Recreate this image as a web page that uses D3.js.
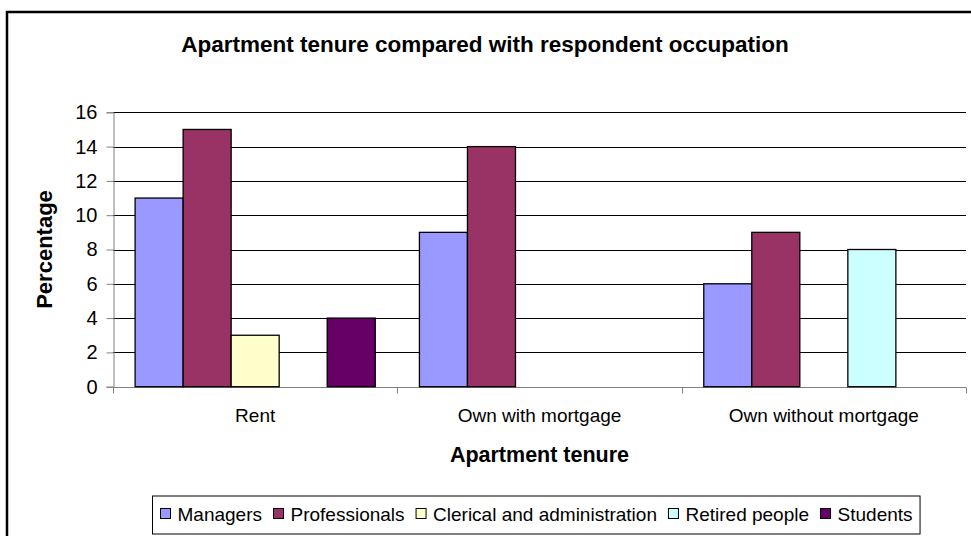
<!DOCTYPE html>
<html lang="en">
  <head>
    <meta charset="UTF-8" />
    <title>Apartment tenure compared with respondent occupation</title>
    <script src="https://d3js.org/d3.v7.min.js"></script>
    <style>
      body { margin: 0; background: #fff; }
      text { font-family: 'Liberation Sans', Arial, sans-serif; fill: #000; }
    </style>
  </head>
  <body>
    <svg id="chart" width="971" height="536"></svg>
    <script>
      // data
      let categories = ['Rent', 'Own with mortgage', 'Own without mortgage']
      let series = ['Managers', 'Professionals', 'Clerical and administration', 'Retired people', 'Students']
      let colors = ['#9999ff', '#993366', '#ffffcc', '#ccffff', '#660066']
      let managers = [11, 9, 6]
      let professionals = [15, 14, 9]
      let clerical = [3, 0, 0]
      let retired = [0, 0, 8]
      let students = [4, 0, 0]
      let yTicks = [0, 2, 4, 6, 8, 10, 12, 14, 16]

      let values = [managers, professionals, clerical, retired, students]

      let plot = { left: 113, right: 966, top: 112.3, bottom: 386.7 }

      let svg = d3.select('#chart')

      // outer chart frame (runs off the right and bottom edge)
      svg.append('rect')
        .attr('x', 7).attr('y', 12)
        .attr('width', 990).attr('height', 560)
        .attr('fill', '#fff')
        .attr('stroke', '#000')
        .attr('stroke-width', 2.5)

      let x = d3.scaleBand().domain(categories).range([plot.left, plot.right])
      let xInner = d3.scaleBand().domain(series).range([0, x.bandwidth()]).paddingOuter(0.46)
      let y = d3.scaleLinear().domain([0, 16]).range([plot.bottom, plot.top])
      let color = d3.scaleOrdinal().domain(series).range(colors)

      // gridlines
      svg.append('g')
        .selectAll('line')
        .data(yTicks.filter(d => d > 0))
        .join('line')
        .attr('x1', plot.left).attr('x2', plot.right)
        .attr('y1', d => Math.round(y(d)) + 0.5).attr('y2', d => Math.round(y(d)) + 0.5)
        .attr('stroke', '#000')

      // y axis
      let yAxis = svg.append('g')
        .attr('transform', `translate(${plot.left + 0.5},0)`)
        .call(d3.axisLeft(y).tickValues(yTicks).tickSize(7).tickPadding(9))
      yAxis.select('.domain').attr('stroke', '#808080')
      yAxis.selectAll('.tick line').attr('stroke', '#808080')
      yAxis.selectAll('text').style('font-size', '20px').attr('font-family', null)

      // x axis line and ticks at the category boundaries
      let xAxis = svg.append('g').attr('transform', `translate(0,${Math.round(plot.bottom) + 0.5})`)
      xAxis.append('line')
        .attr('x1', plot.left).attr('x2', plot.right)
        .attr('stroke', '#808080')
      xAxis.selectAll('line.tick')
        .data(categories.map(c => x(c)).concat([plot.right]))
        .join('line')
        .attr('class', 'tick')
        .attr('x1', d => Math.round(d) + 0.5).attr('x2', d => Math.round(d) + 0.5)
        .attr('y1', 0).attr('y2', 6)
        .attr('stroke', '#808080')
      xAxis.selectAll('text')
        .data(categories)
        .join('text')
        .attr('x', d => x(d) + x.bandwidth() / 2)
        .attr('y', 34.5)
        .attr('text-anchor', 'middle')
        .style('font-size', '19px')
        .text(d => d)

      // bars
      let bars = []
      categories.forEach((c, i) => {
        series.forEach((s, j) => {
          if (values[j][i] > 0) bars.push({ category: c, series: s, value: values[j][i] })
        })
      })
      svg.append('g')
        .selectAll('rect')
        .data(bars)
        .join('rect')
        .attr('x', d => x(d.category) + xInner(d.series))
        .attr('y', d => y(d.value))
        .attr('width', xInner.bandwidth())
        .attr('height', d => y(0) - y(d.value))
        .attr('fill', d => color(d.series))
        .attr('stroke', '#000')
        .attr('stroke-width', 1.3)

      // titles
      svg.append('text')
        .attr('x', 485).attr('y', 52)
        .attr('text-anchor', 'middle')
        .style('font-size', '22.5px').style('font-weight', 'bold')
        .text('Apartment tenure compared with respondent occupation')

      svg.append('text')
        .attr('x', (plot.left + plot.right) / 2).attr('y', 462)
        .attr('text-anchor', 'middle')
        .style('font-size', '21.5px').style('font-weight', 'bold')
        .text('Apartment tenure')

      svg.append('text')
        .attr('transform', `translate(52,${(plot.top + plot.bottom) / 2}) rotate(-90)`)
        .attr('text-anchor', 'middle')
        .style('font-size', '22px').style('font-weight', 'bold')
        .text('Percentage')

      // legend
      let legendLeft = 160
      let legend = svg.append('g')
      let legendBox = legend.append('rect')
        .attr('y', 496).attr('height', 38)
        .attr('fill', '#fff').attr('stroke', '#000')
      let cursor = legendLeft
      series.forEach(s => {
        let item = legend.append('g').attr('transform', `translate(${cursor},0)`)
        item.append('rect')
          .attr('x', 0.5).attr('y', 508.5)
          .attr('width', 10).attr('height', 10)
          .attr('fill', color(s)).attr('stroke', '#000')
        let label = item.append('text')
          .attr('x', 17.5).attr('y', 520.5)
          .style('font-size', '19px')
          .text(s)
        cursor += 17.5 + label.node().getComputedTextLength() + 11
      })
      legendBox.attr('x', legendLeft - 7.5).attr('width', cursor - 11 - legendLeft + 15)
    </script>
  </body>
</html>
